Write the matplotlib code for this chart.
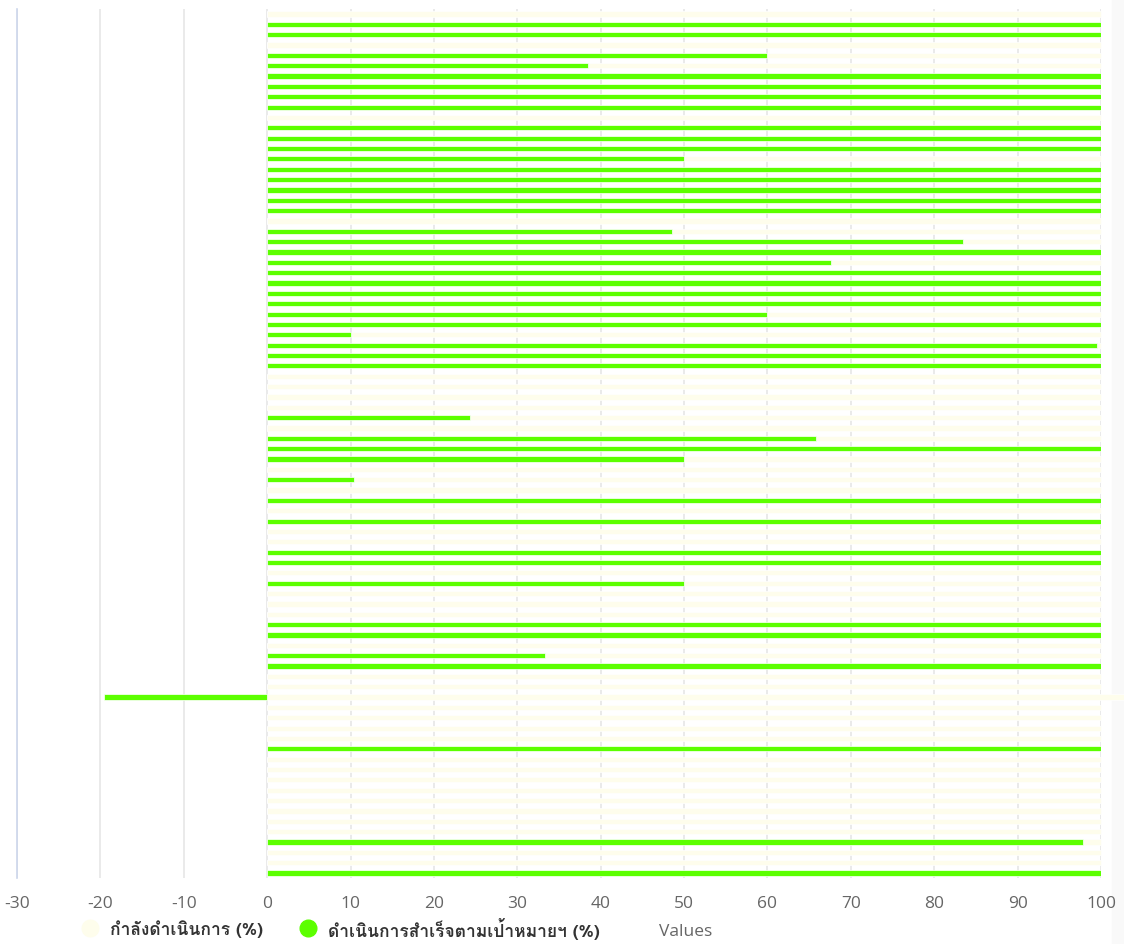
import matplotlib
matplotlib.use("Agg")
import matplotlib.pyplot as plt
from matplotlib.lines import Line2D
from matplotlib.patches import Rectangle
from matplotlib import font_manager as fm
from matplotlib.ft2font import FT2Font
import numpy as np

# ---------------- data ----------------
series_names = ["กำลังดำเนินการ (%)", "ดำเนินการสำเร็จตามเป้าหมายฯ (%)"]
completed = [
    0, 100, 100, 0, 60, 38.5, 100, 100, 100, 100,
    0, 100, 100, 100, 50, 100, 100, 100, 100, 100,
    0, 48.5, 83.4, 100, 67.6, 100, 100, 100, 100, 60,
    100, 10, 99.5, 100, 100, 0, 0, 0, 0, 24.3,
    0, 65.8, 100, 50, 0, 10.4, 0, 100, 0, 100,
    0, 0, 100, 100, 0, 50, 0, 0, 0, 100,
    100, 0, 33.3, 100, 0, 0, -19.6, 0, 0, 0,
    0, 100, 0, 0, 0, 0, 0, 0, 0, 0,
    97.8, 0, 0, 100,
]
in_progress = [100 - v for v in completed]
categories = [str(i + 1) for i in range(len(completed))]
x_ticks = [-30, -20, -10, 0, 10, 20, 30, 40, 50, 60, 70, 80, 90, 100]
x_label = "Values"

# ---------------- fonts ----------------
thai_family = None
for f in fm.fontManager.ttflist:
    try:
        ft = FT2Font(f.fname)
        if ft.get_char_index(ord("ก")) and ft.get_char_index(ord("0")):
            thai_family = f.name
            break
    except Exception:
        pass
fams = ([thai_family] if thai_family else []) + ["Open Sans", "DejaVu Sans"]
plt.rcParams["font.family"] = fams
plt.rcParams["axes.unicode_minus"] = False

GREEN = "#5cff00"
PALE = "#fefdec"

fig = plt.figure(figsize=(11.24, 9.45), dpi=100)
ax = fig.add_axes([17 / 1124, 1 - 879.2 / 945, (1101 - 17) / 1124, 869.4 / 945])

y = np.arange(len(categories))
comp = np.array(completed, dtype=float)
prog = np.array(in_progress, dtype=float)
pale_left = np.where(comp > 0, comp, 0)

ax.barh(y, comp, height=0.5, color=GREEN, edgecolor="white", linewidth=0.5, zorder=3)
ax.barh(y, prog, left=pale_left, height=0.5, color=PALE, edgecolor="white",
        linewidth=0.5, zorder=2, clip_on=False)

ax.set_xlim(-30, 100)
ax.set_ylim(len(categories) - 0.5, -0.5)
ax.set_xticks(x_ticks)
ax.set_xticklabels([str(t) for t in x_ticks], fontfamily=["Open Sans", "DejaVu Sans"])
ax.set_yticks([])
ax.tick_params(axis="x", length=0, pad=12, labelsize=12.5, labelcolor="#666666")
ax.grid(axis="x", color="#e6e6e6", linewidth=1.2, zorder=0)
ax.set_axisbelow(True)
for s in ["top", "right", "bottom"]:
    ax.spines[s].set_visible(False)
ax.spines["left"].set_color("#ccd6eb")
ax.spines["left"].set_linewidth(1.2)

# right edge light band
fig.add_artist(Rectangle((1112 / 1124, 0), 12 / 1124, 1, transform=fig.transFigure,
                         color="#f9f9f9", zorder=0))

# legend
ly = 1 - 929 / 945
fig.add_artist(Line2D([90 / 1124], [ly], marker="o", markersize=12, color=PALE,
                      markeredgecolor=PALE, linestyle="none", transform=fig.transFigure))
fig.text(110 / 1124, ly, series_names[0], ha="left", va="center", fontsize=12.5,
         fontweight="bold", color="#333333", family=fams)
fig.add_artist(Line2D([308 / 1124], [ly], marker="o", markersize=12, color=GREEN,
                      markeredgecolor=GREEN, linestyle="none", transform=fig.transFigure))
fig.text(328 / 1124, ly, series_names[1], ha="left", va="center", fontsize=12.5,
         fontweight="bold", color="#333333", family=fams)
fig.text(686 / 1124, 1 - 932 / 945, x_label, ha="center", va="center", fontsize=12.5,
         color="#666666", family=["Open Sans", "DejaVu Sans"])

fig.savefig("out.png", dpi=100)
